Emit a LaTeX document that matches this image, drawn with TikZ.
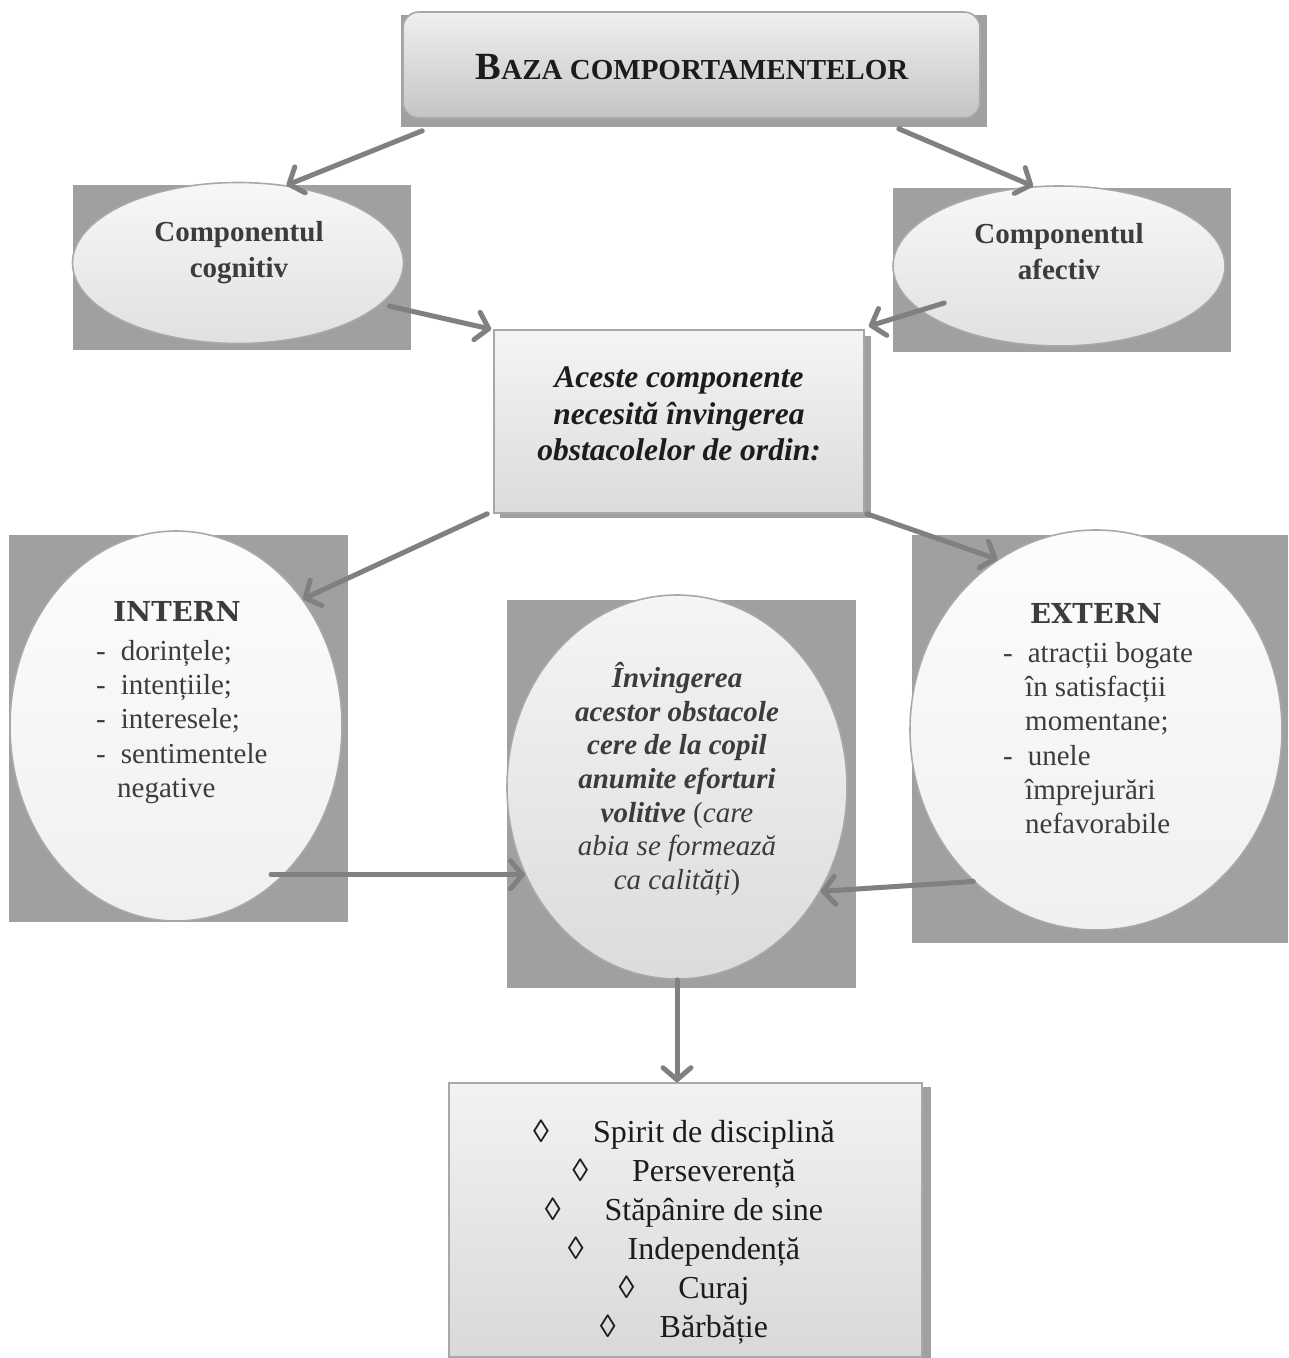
\documentclass[tikz,border=0pt]{standalone}
\usepackage{fontspec}
\setmainfont{Liberation Serif}
\newfontfamily\titlefont{DejaVu Serif}
\usetikzlibrary{shapes.geometric,arrows.meta}

\definecolor{shadowgray}{HTML}{A0A0A0}
\definecolor{rimgray}{HTML}{A8A8A8}
\definecolor{linkgray}{HTML}{808080}
\definecolor{inkdark}{HTML}{1C1C1C}
\definecolor{inksoft}{HTML}{3C3C3C}

\begin{document}
\begin{tikzpicture}[x=1pt,y=-1pt,
  backing/.style={fill=shadowgray,draw=none},
  panel/.style={draw=rimgray,line width=1.6pt,inner sep=0pt},
  link/.style={draw=linkgray,line width=5pt,line cap=round,
    -{Straight Barb[length=12pt,width=28pt,round]}},
  boldtext/.style={font=\fontsize{29}{36}\selectfont\bfseries,text=inksoft,align=center,inner sep=0pt},
  listtext/.style={font=\fontsize{29}{34.3}\selectfont,text=inksoft,align=left,inner sep=0pt},
  headtext/.style={font=\fontsize{27.5}{30}\titlefont\bfseries,text=inksoft,inner sep=0pt}
]
\useasboundingbox (0,0) rectangle (1289,1358);

% grey drop shadows behind the boxes and ovals
\fill[backing] (401,15) rectangle (987,127);
\fill[backing] (73,185) rectangle (411,350);
\fill[backing] (893,188) rectangle (1231,352);
\fill[backing] (500,336) rectangle (871,518);
\fill[backing] (9,535) rectangle (348,922);
\fill[backing] (912,535) rectangle (1288,943);
\fill[backing] (507,600) rectangle (856,988);
\fill[backing] (455,1087) rectangle (931,1358);

% title box
\node[panel,rectangle,rounded corners=16pt,minimum width=577pt,minimum height=106pt,
  top color=black!6,bottom color=black!23] (base) at (691.5,65) {};
\node[inner sep=0pt,text=inkdark,font=\bfseries] (basetext) at (692,67)
  {\fontsize{38.5}{40}\selectfont B\fontsize{29}{40}\selectfont AZA COMPORTAMENTELOR};

% the two components
\node[panel,ellipse,minimum width=331pt,minimum height=161pt,
  top color=black!3,bottom color=black!12] (cog) at (238,263) {};
\node[boldtext] (cogtext) at (239,253) {Componentul\\cognitiv};
\node[panel,ellipse,minimum width=332pt,minimum height=160pt,
  top color=black!3,bottom color=black!12] (aff) at (1059,266) {};
\node[boldtext] (afftext) at (1059,252) {Componentul\\afectiv};

% obstacles box
\node[panel,rectangle,minimum width=370pt,minimum height=183pt,
  top color=black!4,bottom color=black!14] (obst) at (679,421.5) {};
\node[boldtext,text=inkdark,font=\fontsize{31.5}{36.5}\selectfont\bfseries\itshape] (obsttext) at (679,414)
  {Aceste componente\\necesită învingerea\\obstacolelor de ordin:};

% internal obstacles
\node[panel,ellipse,minimum width=332pt,minimum height=390pt,
  top color=black!1,bottom color=black!6] (intern) at (176,726) {};
\node[headtext] (interntitle) at (177,611) {INTERN};
\node[listtext,anchor=north west] (internlist) at (96,640)
  {-\hspace{15pt}dorințele;\\ -\hspace{15pt}intențiile;\\ -\hspace{15pt}interesele;\\
   -\hspace{15pt}sentimentele\\ \hspace{21pt}negative};

% external obstacles
\node[panel,ellipse,minimum width=372pt,minimum height=400pt,
  top color=black!1,bottom color=black!6] (ext) at (1096,730) {};
\node[headtext] (exttitle) at (1096,613) {EXTERN};
\node[listtext,anchor=north west] (extlist) at (1003,642)
  {-\hspace{15pt}atracții bogate\\ \hspace{22pt}în satisfacții\\ \hspace{22pt}momentane;\\
   -\hspace{15pt}unele\\ \hspace{22pt}împrejurări\\ \hspace{22pt}nefavorabile};

% volitional effort
\node[panel,ellipse,minimum width=340pt,minimum height=384pt,
  top color=black!4,bottom color=black!14] (vol) at (677,787) {};
\node[inner sep=0pt,align=center,text=inksoft,font=\fontsize{29}{33.7}\selectfont] (voltext) at (677,779)
  {\textbf{\textit{Învingerea}}\\ \textbf{\textit{acestor obstacole}}\\ \textbf{\textit{cere de la copil}}\\
   \textbf{\textit{anumite eforturi}}\\ \textbf{\textit{volitive}} (\textit{care}\\
   \textit{abia se formează}\\ \textit{ca calități})};

% resulting qualities
\node[panel,rectangle,minimum width=473pt,minimum height=274pt,
  top color=black!5,bottom color=black!15] (qual) at (685.5,1220) {};
\node[inner sep=0pt,align=center,text=inkdark,font=\fontsize{32}{39}\selectfont] (qualtext) at (684,1232)
  {◊\hspace{44pt}Spirit de disciplină\\ ◊\hspace{44pt}Perseverență\\ ◊\hspace{44pt}Stăpânire de sine\\
   ◊\hspace{44pt}Independență\\ ◊\hspace{44pt}Curaj\\ ◊\hspace{44pt}Bărbăție};

% connectors
\draw[link] ([xshift=20pt,yshift=-12pt]base.south west) -- (cog.58);
\draw[link] ([xshift=-82pt,yshift=-10pt]base.south east) -- (aff.108);
\draw[link] ([xshift=8pt,yshift=-2pt]cog.-16) -- ([xshift=-2pt]obst.north west);
\draw[link] ([xshift=52pt,yshift=-37pt]aff.west) -- ([xshift=4pt,yshift=3pt]obst.north east);
\draw[link] ([xshift=-6pt]obst.south west) -- (intern.45);
\draw[link] ([xshift=2pt]obst.south east) -- (ext.120);
\draw[link] (vol.-150 -| intern.center) ++(95,0) -- (vol.-150);
\draw[link] (ext.231) -- (vol.-36);
\draw[link] (vol.south) -- (vol.south |- qual.north);
\end{tikzpicture}
\end{document}
